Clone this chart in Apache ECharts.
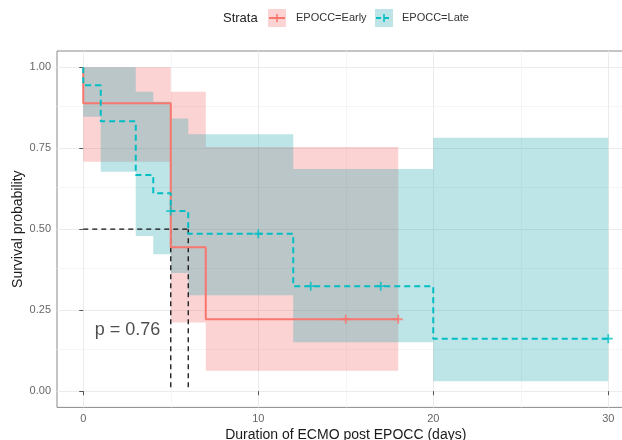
<!DOCTYPE html>
<html>
<head>
<meta charset="utf-8">
<script src="https://cdn.jsdelivr.net/npm/echarts@6/dist/echarts.min.js"></script>
<style>
  html, body { margin: 0; padding: 0; background: #fff; }
  #chart { width: 622px; height: 440px; }
</style>
</head>
<body>
<div id="chart"></div>
<script>
// Kaplan-Meier step curves
const earlyTimes = [0, 0, 5, 7, 15, 18];
const earlySurv = [1.0, 0.889, 0.444, 0.222, 0.222, 0.222];
const lateTimes = [0, 0, 1, 3, 4, 5, 6, 10, 12, 13, 17, 20, 30];
const lateSurv = [1.0, 0.944, 0.833, 0.667, 0.611, 0.556, 0.486, 0.486, 0.324, 0.324, 0.324, 0.162, 0.162];

// censor marks
const earlyCensorTimes = [15, 18];
const earlyCensorSurv = [0.222, 0.222];
const lateCensorTimes = [5, 10, 13, 17, 30];
const lateCensorSurv = [0.556, 0.486, 0.324, 0.324, 0.162];

// confidence bands (each value holds until the next time)
const earlyCiTimes = [0, 5, 7, 18];
const earlyCiUpper = [1.0, 0.924, 0.754, 0.754];
const earlyCiLower = [0.708, 0.212, 0.063, 0.063];
const lateCiTimes = [0, 1, 3, 4, 5, 6, 12, 20, 30];
const lateCiUpper = [1.0, 1.0, 0.924, 0.893, 0.842, 0.793, 0.686, 0.782, 0.782];
const lateCiLower = [0.847, 0.677, 0.479, 0.423, 0.365, 0.296, 0.151, 0.031, 0.031];

// median survival times (at 0.5)
const medianTimes = [5, 6];
const medianLevel = 0.5;

const pValueText = 'p = 0.76';
const pValuePos = [0.65, 0.19];

const xTicks = [0, 10, 20, 30];
const xMinorTicks = [5, 15, 25];
const yTicks = [0, 0.25, 0.5, 0.75, 1.0];
const yMinorTicks = [0.125, 0.375, 0.625, 0.875];

const RED = '#F8766D';
const TEAL = '#00BFC4';
const RED_FILL = 'rgba(242,110,110,0.3)';
const TEAL_FILL = 'rgba(38,165,172,0.3)';
const FONT = '"Liberation Sans", Arial, sans-serif';
const PLUS = 'path://M4,0h2v10h-2zM0,4h10v2h-10z';

const zip = (xs, ys) => xs.map((x, i) => [x, ys[i]]);

// step ribbon drawn as one polygon through the axis scales
function bandSeries(times, lower, upper, color) {
  const rows = times.map((t, i) => [t, lower[i], upper[i]]);
  return {
    type: 'custom',
    data: rows,
    encode: { x: 0, y: [1, 2] },
    silent: true,
    z: 2,
    renderItem: function (params, api) {
      if (params.dataIndex !== 0) return null;
      const top = [];
      const bottom = [];
      rows.forEach((r, i) => {
        const tEnd = i < rows.length - 1 ? rows[i + 1][0] : r[0];
        top.push(api.coord([r[0], r[2]]), api.coord([tEnd, r[2]]));
        bottom.push(api.coord([r[0], r[1]]), api.coord([tEnd, r[1]]));
      });
      return {
        type: 'polygon',
        shape: { points: top.concat(bottom.reverse()) },
        style: { fill: color }
      };
    }
  };
}

const chart = echarts.init(document.getElementById('chart'));

const medianLines = [
  [[0, medianLevel], [Math.max(...medianTimes), medianLevel]],
  ...medianTimes.map(m => [[m, medianLevel], [m, 0]])
];

chart.setOption({
  animation: false,
  textStyle: { fontFamily: FONT },
  grid: {
    left: 57,
    top: 51,
    width: 577.5,
    height: 356.4,
    outerBoundsMode: 'none',
    containLabel: false,
    show: true,
    borderColor: '#8a8a8a',
    borderWidth: 1,
    backgroundColor: 'transparent'
  },
  xAxis: {
    type: 'value',
    min: -1.5,
    max: 31.5,
    name: 'Duration of ECMO post EPOCC (days)',
    nameLocation: 'middle',
    nameGap: 21,
    nameMoveOverlap: false,
    nameTextStyle: { fontSize: 14, color: '#1a1a1a', fontFamily: FONT },
    axisLine: { show: false },
    axisTick: { show: true, customValues: xTicks, length: 4, lineStyle: { color: '#555' } },
    axisLabel: {
      customValues: xTicks,
      color: '#666',
      fontSize: 11,
      margin: 6,
      fontFamily: FONT
    },
    splitLine: { show: true, lineStyle: { color: '#ebebeb', width: 1 } }
  },
  yAxis: {
    type: 'value',
    min: -0.05,
    max: 1.05,
    name: 'Survival probability',
    nameLocation: 'middle',
    nameGap: 32,
    nameMoveOverlap: false,
    nameTextStyle: { fontSize: 14, color: '#1a1a1a', fontFamily: FONT },
    axisLine: { show: false },
    axisTick: { show: true, customValues: yTicks, length: 4, lineStyle: { color: '#555' } },
    axisLabel: {
      customValues: yTicks,
      color: '#666',
      fontSize: 11,
      margin: 6,
      fontFamily: FONT,
      formatter: v => v.toFixed(2)
    },
    splitLine: { show: true, lineStyle: { color: '#ebebeb', width: 1 } }
  },
  series: [
    {
      // minor grid lines
      type: 'line',
      data: [],
      z: 1,
      markLine: {
        silent: true,
        z: 1,
        symbol: 'none',
        label: { show: false },
        lineStyle: { color: '#f2f2f2', width: 0.8, type: 'solid' },
        data: [
          ...xMinorTicks.map(v => ({ xAxis: v })),
          ...yMinorTicks.map(v => ({ yAxis: v }))
        ]
      }
    },
    bandSeries(earlyCiTimes, earlyCiLower, earlyCiUpper, RED_FILL),
    bandSeries(lateCiTimes, lateCiLower, lateCiUpper, TEAL_FILL),
    ...medianLines.map(seg => ({
      type: 'line',
      symbol: 'none',
      data: seg,
      lineStyle: { color: '#111', width: 1.3, type: [5, 4] },
      z: 3
    })),
    {
      type: 'line',
      name: 'EPOCC=Early',
      step: 'end',
      symbol: 'none',
      data: zip(earlyTimes, earlySurv),
      lineStyle: { color: RED, width: 2 },
      z: 4
    },
    {
      type: 'line',
      name: 'EPOCC=Late',
      step: 'end',
      symbol: 'none',
      data: zip(lateTimes, lateSurv),
      lineStyle: { color: TEAL, width: 2, type: [6, 4] },
      z: 4
    },
    {
      type: 'scatter',
      symbol: PLUS,
      symbolSize: 9,
      itemStyle: { color: RED },
      data: zip(earlyCensorTimes, earlyCensorSurv),
      z: 5
    },
    {
      type: 'scatter',
      symbol: PLUS,
      symbolSize: 9,
      itemStyle: { color: TEAL },
      data: zip(lateCensorTimes, lateCensorSurv),
      z: 5
    },
    {
      type: 'scatter',
      symbolSize: 0,
      data: [pValuePos],
      label: {
        show: true,
        position: 'right',
        distance: 0,
        formatter: pValueText,
        fontSize: 18,
        color: '#222',
        fontFamily: FONT
      },
      z: 5
    }
  ],
  graphic: [
    { type: 'text', x: 223, y: 18, style: { text: 'Strata', fontSize: 13, fill: '#222', fontFamily: FONT, verticalAlign: 'middle' } },
    { type: 'rect', shape: { x: 268, y: 9, width: 18, height: 18 }, style: { fill: RED_FILL } },
    { type: 'line', shape: { x1: 269, y1: 18, x2: 285, y2: 18 }, style: { stroke: RED, lineWidth: 2 } },
    { type: 'line', shape: { x1: 277, y1: 14, x2: 277, y2: 22 }, style: { stroke: RED, lineWidth: 1.5 } },
    { type: 'text', x: 296, y: 18, style: { text: 'EPOCC=Early', fontSize: 11, fill: '#333', fontFamily: FONT, verticalAlign: 'middle' } },
    { type: 'rect', shape: { x: 375, y: 9, width: 18, height: 18 }, style: { fill: TEAL_FILL } },
    { type: 'line', shape: { x1: 376, y1: 18, x2: 392, y2: 18 }, style: { stroke: TEAL, lineWidth: 2, lineDash: [5, 3] } },
    { type: 'line', shape: { x1: 384, y1: 14, x2: 384, y2: 22 }, style: { stroke: TEAL, lineWidth: 1.5 } },
    { type: 'text', x: 402, y: 18, style: { text: 'EPOCC=Late', fontSize: 11, fill: '#333', fontFamily: FONT, verticalAlign: 'middle' } }
  ]
});
</script>
</body>
</html>
